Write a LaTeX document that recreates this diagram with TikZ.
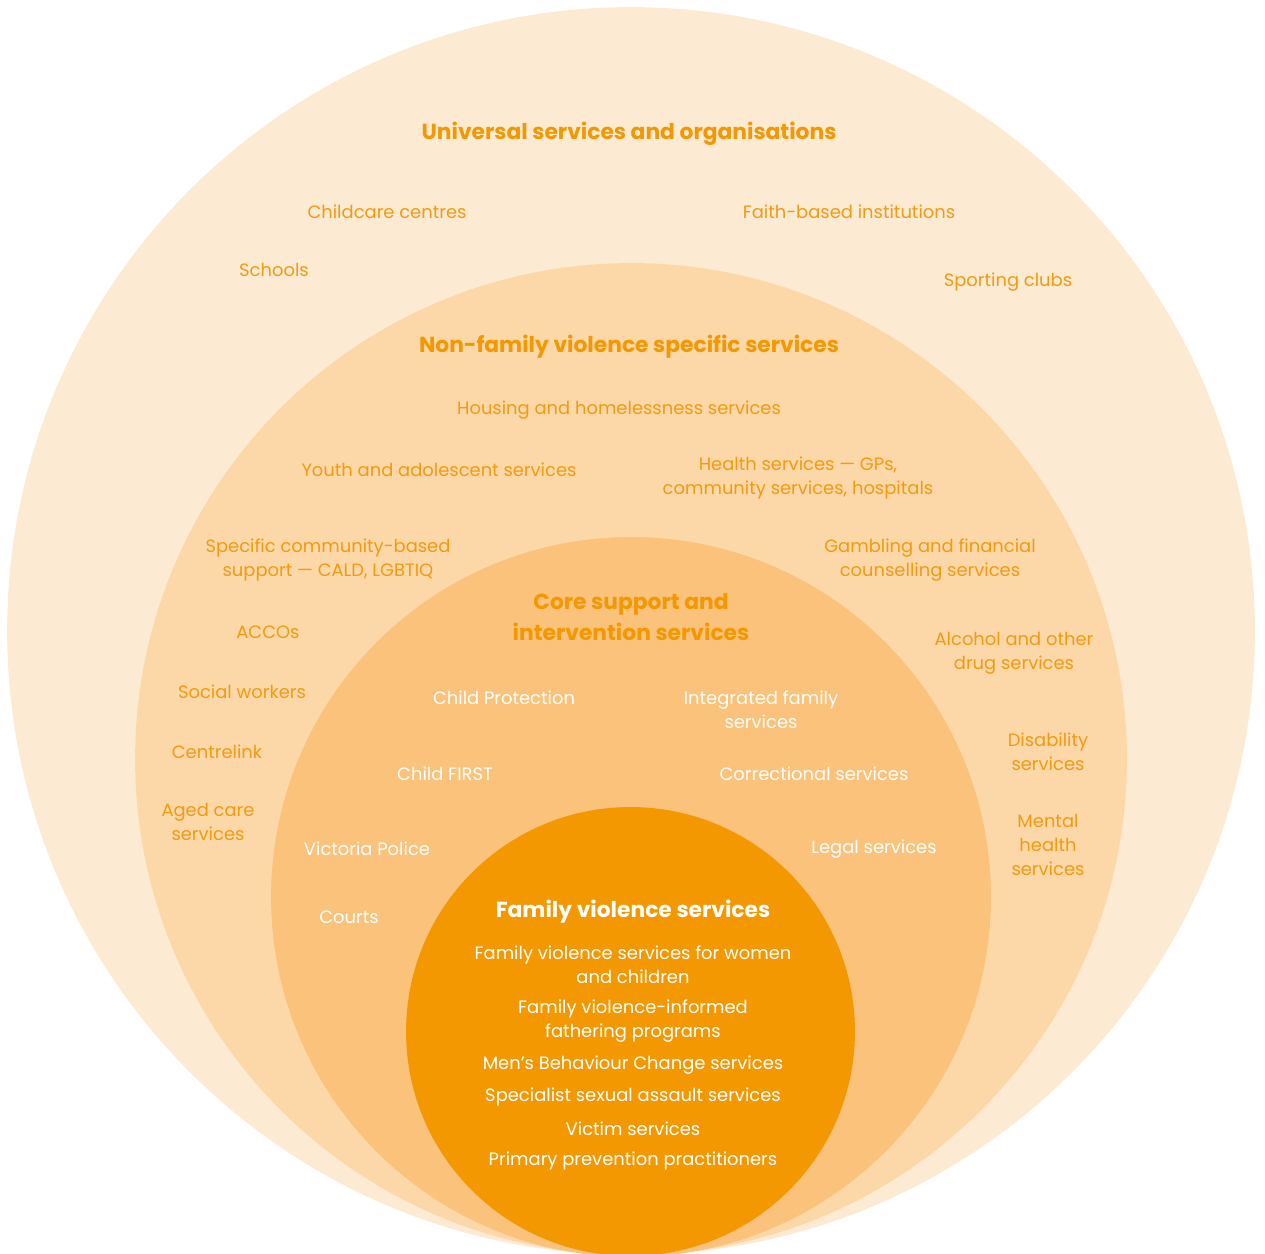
\documentclass[tikz,border=0pt]{standalone}
\usepackage{fontspec}
\setmainfont{Poppins}
\definecolor{universal}{HTML}{FDEAD3}
\definecolor{nonfv}{HTML}{FCD8A9}
\definecolor{core}{HTML}{FAC27A}
\definecolor{fvs}{HTML}{F39800}
\definecolor{txtorange}{HTML}{F39A0F}
\tikzset{
  lbl/.style={text=txtorange, align=center, inner sep=0pt, font=\fontsize{10.2}{13.6}\selectfont},
  wlbl/.style={lbl, text=white},
  head/.style={text=fvs, align=center, inner sep=0pt, font=\bfseries\fontsize{12.4}{18}\selectfont},
  whead/.style={head, text=white},
}
\begin{document}
\begin{tikzpicture}[x=0.02cm,y=-0.02cm]
\useasboundingbox (0,0) rectangle (1265,1254);
\clip (0,0) rectangle (1265,1254);
%\draw[step=50,gray,very thin] (0,0) grid (1265,1254);
\fill[universal] (631,631) circle (12.48cm);
\fill[nonfv] (631,759) circle (9.92cm);
\fill[core] (631,897) circle (7.2cm);
\fill[fvs] (630.5,1031.5) circle (4.49cm);

% universal services and organisations
\node[head] (univ) at (629,134) {Universal services and organisations};
\node[lbl] (childcare) at (387,212) {Childcare centres};
\node[lbl] (faith) at (849,212) {Faith-based institutions};
\node[lbl] (schools) at (274,270) {Schools};
\node[lbl] (sport) at (1008,282) {Sporting clubs};

% non-family violence specific services
\node[head] (nonfvhead) at (629,347) {Non-family violence specific services};
\node[lbl] (housing) at (619,410) {Housing and homelessness services};
\node[lbl] (youth) at (439,470) {Youth and adolescent services};
\node[lbl] (health) at (798,478) {Health services --- GPs,\\community services, hospitals};
\node[lbl] (community) at (328,560) {Specific community-based\\support --- CALD, LGBTIQ};
\node[lbl] (gambling) at (930,560) {Gambling and financial\\counselling services};
\node[lbl] (accos) at (268,632) {ACCOs};
\node[lbl] (alcohol) at (1014,653) {Alcohol and other\\drug services};
\node[lbl] (social) at (242,692) {Social workers};
\node[lbl] (centrelink) at (217,752) {Centrelink};
\node[lbl] (disability) at (1048,752) {Disability\\services};
\node[lbl] (aged) at (208,822) {Aged care\\services};
\node[lbl] (mental) at (1048,845) {Mental\\health\\services};

% core support and intervention services
\node[head] (corehead) at (631,617) {Core support and\\intervention services};
\node[wlbl] (protection) at (504,698) {Child Protection};
\node[wlbl] (integrated) at (761,710) {Integrated family\\services};
\node[wlbl] (first) at (445,774) {Child FIRST};
\node[wlbl] (correctional) at (814,774) {Correctional services};
\node[wlbl] (police) at (367,849) {Victoria Police};
\node[wlbl] (legal) at (874,849) {Legal services};
\node[wlbl] (courts) at (349,917) {Courts};

% family violence services
\node[whead] (fvhead) at (633,912) {Family violence services};
\node[wlbl] (women) at (633,965) {Family violence services for women\\and children};
\node[wlbl] (fathering) at (633,1021) {Family violence-informed\\fathering programs};
\node[wlbl] (behaviour) at (633,1065) {Men’s Behaviour Change services};
\node[wlbl] (sexual) at (633,1097) {Specialist sexual assault services};
\node[wlbl] (victim) at (633,1129) {Victim services};
\node[wlbl] (prevention) at (633,1161) {Primary prevention practitioners};
\end{tikzpicture}
\end{document}
